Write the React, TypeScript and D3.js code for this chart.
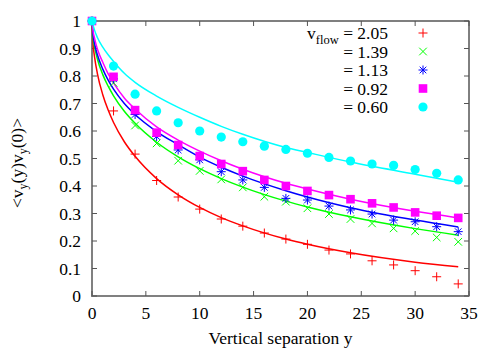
import React from 'react'
import * as d3 from 'd3'

const width = 500
const height = 350
const margin = { left: 92, top: 21, right: 31, bottom: 54 }
const font = "'Liberation Serif', 'DejaVu Serif', serif"

// measured separations (markers)
const sepX = [0, 2, 4, 6, 8, 10, 12, 14, 16, 18, 20, 22, 24, 26, 28, 30, 32, 34]
const corr205 = [1, 0.673, 0.516, 0.42, 0.36, 0.316, 0.28, 0.254, 0.229, 0.207, 0.188, 0.167, 0.153, 0.128, 0.113, 0.092, 0.07, 0.044]
const corr139 = [1, 0.775, 0.62, 0.555, 0.492, 0.455, 0.424, 0.395, 0.361, 0.343, 0.319, 0.298, 0.28, 0.264, 0.246, 0.236, 0.213, 0.197]
const corr113 = [1, 0.79, 0.66, 0.58, 0.531, 0.495, 0.452, 0.422, 0.395, 0.355, 0.349, 0.327, 0.313, 0.298, 0.276, 0.27, 0.252, 0.234]
const corr092 = [1, 0.797, 0.676, 0.594, 0.549, 0.509, 0.48, 0.454, 0.422, 0.4, 0.382, 0.367, 0.352, 0.337, 0.322, 0.304, 0.292, 0.284]
const corr060 = [1, 0.836, 0.734, 0.673, 0.63, 0.6, 0.578, 0.561, 0.545, 0.533, 0.519, 0.504, 0.491, 0.48, 0.475, 0.46, 0.446, 0.422]

// fitted curves
const fitX = [0, 0.1, 0.25, 0.5, 1, 1.5, 2, 3, 4, 6, 8, 10, 12, 14, 18, 20, 24, 30, 34]
const fit205 = [1, 0.918, 0.866, 0.809, 0.732, 0.676, 0.631, 0.561, 0.508, 0.427, 0.368, 0.322, 0.285, 0.255, 0.207, 0.188, 0.157, 0.123, 0.106]
const fit139 = [1, 0.941, 0.904, 0.862, 0.805, 0.763, 0.728, 0.672, 0.628, 0.559, 0.506, 0.463, 0.427, 0.396, 0.345, 0.324, 0.288, 0.245, 0.221]
const fit113 = [1, 0.95, 0.915, 0.877, 0.825, 0.785, 0.752, 0.7, 0.66, 0.598, 0.55, 0.505, 0.468, 0.436, 0.383, 0.36, 0.321, 0.276, 0.251]
const fit092 = [1, 0.963, 0.935, 0.898, 0.85, 0.808, 0.775, 0.72, 0.68, 0.615, 0.567, 0.527, 0.492, 0.461, 0.41, 0.389, 0.352, 0.308, 0.284]
const fit060 = [1, 0.985, 0.965, 0.94, 0.905, 0.877, 0.853, 0.81, 0.777, 0.727, 0.686, 0.65, 0.617, 0.588, 0.54, 0.522, 0.487, 0.443, 0.414]

const flowLabels = ['2.05', '1.39', '1.13', '0.92', '0.60']
const colors = ['#ff0000', '#00ff00', '#0000ff', '#ff00ff', '#00ffff']
const markers = ['plus', 'cross', 'star', 'square', 'circle']
const pointSets = [corr205, corr139, corr113, corr092, corr060]
const fitSets = [fit205, fit139, fit113, fit092, fit060]

const xTicks = [0, 5, 10, 15, 20, 25, 30, 35]
const yTicks = [0, 0.1, 0.2, 0.3, 0.4, 0.5, 0.6, 0.7, 0.8, 0.9, 1]

function Marker({ type, x, y, color }) {
  const s = 4.5
  if (type === 'plus') {
    return <path d={`M${x - s},${y}H${x + s}M${x},${y - s}V${y + s}`} stroke={color} strokeWidth={1} fill="none" />
  }
  if (type === 'cross') {
    const c = 3.8
    return <path d={`M${x - c},${y - c}L${x + c},${y + c}M${x - c},${y + c}L${x + c},${y - c}`} stroke={color} strokeWidth={1} fill="none" />
  }
  if (type === 'star') {
    const c = 3.3
    return (
      <path
        d={`M${x - s},${y}H${x + s}M${x},${y - s}V${y + s}M${x - c},${y - c}L${x + c},${y + c}M${x - c},${y + c}L${x + c},${y - c}`}
        stroke={color}
        strokeWidth={1}
        fill="none"
      />
    )
  }
  if (type === 'square') {
    return <rect x={x - 4.3} y={y - 4.3} width={8.6} height={8.6} fill={color} />
  }
  return <circle cx={x} cy={y} r={4.6} fill={color} />
}

export default function App() {
  const xScale = d3.scaleLinear().domain([0, 35]).range([margin.left, width - margin.right])
  const yScale = d3.scaleLinear().domain([0, 1]).range([height - margin.bottom, margin.top])
  const x0 = xScale(0)
  const x1 = xScale(35)
  const y0 = yScale(0)
  const y1 = yScale(1)

  const line = d3
    .line<number>()
    .x((d, i) => xScale(fitX[i]))
    .y((d) => yScale(d))
    .curve(d3.curveMonotoneX)

  const tick = 5

  return (
    <svg
      width={width}
      height={height}
      style={{ position: 'absolute', left: 0, top: 0, background: 'white', fontFamily: font }}
    >
      {/* frame */}
      <rect x={x0} y={y1} width={x1 - x0} height={y0 - y1} fill="none" stroke="black" strokeWidth={1} />
      <line x1={x0} x2={x0} y1={y1} y2={y0 + 1} stroke="#808080" strokeWidth={2} />
      <line x1={x0 - 1} x2={x1} y1={y0} y2={y0} stroke="#808080" strokeWidth={2} />

      {xTicks.map((t) => (
        <g key={'x' + t}>
          <line x1={xScale(t)} x2={xScale(t)} y1={y0} y2={y0 - tick} stroke="#555" />
          <line x1={xScale(t)} x2={xScale(t)} y1={y1} y2={y1 + tick} stroke="#555" />
          <text x={xScale(t)} y={y0 + 23} fontSize={17.5} textAnchor="middle">
            {t}
          </text>
        </g>
      ))}
      {yTicks.map((t) => (
        <g key={'y' + t}>
          <line x1={x0} x2={x0 + tick} y1={yScale(t)} y2={yScale(t)} stroke="#555" />
          <line x1={x1} x2={x1 - tick} y1={yScale(t)} y2={yScale(t)} stroke="#555" />
          <text x={x0 - 11} y={yScale(t) + 6} fontSize={17.5} textAnchor="end">
            {d3.format('~g')(t)}
          </text>
        </g>
      ))}

      <text x={(x0 + x1) / 2} y={344} fontSize={17.5} textAnchor="middle">
        Vertical separation y
      </text>
      <text transform="translate(23,163) rotate(-90)" fontSize={17.5} textAnchor="middle">
        {'<v'}
        <tspan dy={4} fontSize={12}>y</tspan>
        <tspan dy={-4}>(y)v</tspan>
        <tspan dy={4} fontSize={12}>y</tspan>
        <tspan dy={-4}>{'(0)>'}</tspan>
      </text>

      {/* fits */}
      {fitSets.map((f, i) => (
        <path key={'f' + i} d={line(f) || ''} fill="none" stroke={colors[i]} strokeWidth={1.5} />
      ))}

      {/* data */}
      {pointSets.map((ps, i) =>
        ps.map((v, j) => (
          <Marker key={`p${i}-${j}`} type={markers[i]} x={xScale(sepX[j])} y={yScale(v)} color={colors[i]} />
        ))
      )}

      {/* legend */}
      {flowLabels.map((lab, i) => {
        const cy = 33 + i * 18.5
        return (
          <g key={'l' + i}>
            <text x={388} y={cy + 6} fontSize={17.5} textAnchor="end">
              {i === 0 ? (
                <>
                  v<tspan dy={5} fontSize={12.5}>flow</tspan>
                  <tspan dy={-5}>{' = ' + lab}</tspan>
                </>
              ) : (
                '= ' + lab
              )}
            </text>
            <Marker type={markers[i]} x={423} y={cy} color={colors[i]} />
          </g>
        )
      })}
    </svg>
  )
}
